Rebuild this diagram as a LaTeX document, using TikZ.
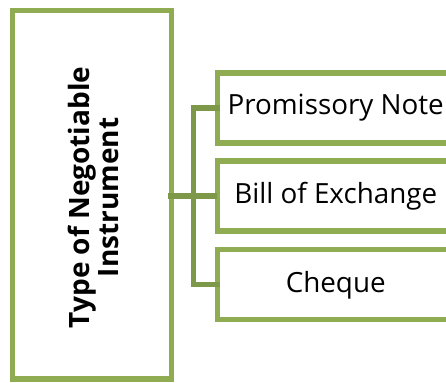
\documentclass[tikz,border=0pt]{standalone}
\usepackage{fontspec}
\setmainfont{Open Sans}
\begin{document}
\begin{tikzpicture}[x=1pt,y=-1pt,
  boxc/.style={draw=boxgreen,line width=5.3pt,fill=white,outer sep=0pt,inner sep=0pt},
  childbox/.style={boxc,minimum width=237pt,minimum height=70pt,font=\fontsize{27.8}{30}\selectfont},
  conn/.style={draw=conngreen,line width=5.3pt}]
\definecolor{boxgreen}{RGB}{143,172,82}
\definecolor{conngreen}{RGB}{125,152,72}
\useasboundingbox (0,0) rectangle (446,382);
\clip (0,0) rectangle (446,382);
\node[boxc,minimum width=158.6pt,minimum height=368.3pt] (main) at (92,194.85) {};
\node[rotate=90,align=center,font=\fontsize{28}{29}\selectfont\bfseries] (mt) at (93,197.5) {Type of Negotiable\\Instrument};
\node[childbox] (b1) at (335.7,108) {Promissory Note};
\node[childbox] (b2) at (335.7,196) {Bill of Exchange};
\node[childbox] (b3) at (335.7,284.8) {Cheque};
\coordinate (jx) at (193.3,196);
\draw[conn,shorten <=-3pt] (main.east |- b2.west) -- (b2.west);
\draw[conn,shorten <=-3pt,shorten >=-3pt] (b1.west) -| (jx) |- (b3.west);
\end{tikzpicture}
\end{document}
